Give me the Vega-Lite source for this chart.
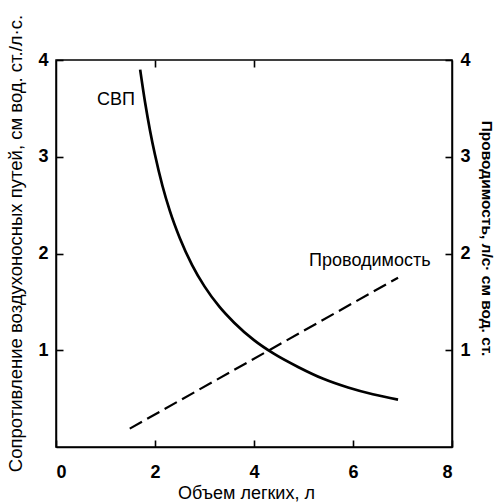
{
  "$schema": "https://vega.github.io/schema/vega-lite/v6.json",
  "width": 396,
  "height": 387,
  "autosize": {"type": "none"},
  "padding": {"left": 56, "top": 60, "right": 46, "bottom": 56},
  "background": "white",
  "config": {
    "view": {"stroke": "black", "strokeWidth": 1.5},
    "axis": {
      "domainColor": "black",
      "domainWidth": 1.5,
      "ticks": true,
      "tickSize": -7,
      "tickColor": "black",
      "tickWidth": 1.6,
      "grid": false,
      "labelPadding": 15,
      "labelFont": "Liberation Sans",
      "labelFontWeight": "bold",
      "labelFontSize": 18,
      "labelColor": "black",
      "titleFont": "Liberation Sans",
      "titleFontWeight": "normal",
      "titleFontSize": 18,
      "titleColor": "black"
    }
  },
  "datasets": {
    "svp": [
      {"v": 1.70, "r": 3.90},
      {"v": 1.80, "r": 3.56},
      {"v": 1.90, "r": 3.27},
      {"v": 2.00, "r": 3.02},
      {"v": 2.15, "r": 2.70},
      {"v": 2.30, "r": 2.44},
      {"v": 2.50, "r": 2.16},
      {"v": 2.75, "r": 1.88},
      {"v": 3.00, "r": 1.66},
      {"v": 3.30, "r": 1.45},
      {"v": 3.60, "r": 1.285},
      {"v": 4.00, "r": 1.105},
      {"v": 4.40, "r": 0.965},
      {"v": 4.90, "r": 0.825},
      {"v": 5.40, "r": 0.705},
      {"v": 5.90, "r": 0.615},
      {"v": 6.40, "r": 0.545},
      {"v": 6.91, "r": 0.49}
    ],
    "cond": [
      {"v": 1.49, "g": 0.19},
      {"v": 6.91, "g": 1.75}
    ],
    "labels": [
      {"v": 1.21, "y": 3.59, "text": "СВП"},
      {"v": 6.34, "y": 1.92, "text": "Проводимость"}
    ]
  },
  "layer": [
    {
      "data": {"name": "svp"},
      "mark": {"type": "line", "color": "black", "strokeWidth": 2.7, "interpolate": "monotone"},
      "encoding": {
        "x": {"field": "v", "type": "quantitative", "scale": {"domain": [0, 8], "nice": false},
          "axis": {"orient": "bottom", "values": [0, 2, 4, 6, 8], "labelPadding": 23, "title": "Объем легких, л", "titlePadding": 3, "titleX": 190}},
        "y": {"field": "r", "type": "quantitative", "scale": {"domain": [0, 4], "nice": false},
          "axis": {"orient": "left", "values": [1, 2, 3, 4], "title": "Сопротивление воздухоносных путей, см вод. ст./л·с.", "titleFontSize": 18.5, "titlePadding": 12, "titleY": 183}}
      }
    },
    {
      "data": {"name": "cond"},
      "mark": {"type": "line", "color": "black", "strokeWidth": 2.2, "strokeDash": [14, 6]},
      "encoding": {
        "x": {"field": "v", "type": "quantitative", "scale": {"domain": [0, 8], "nice": false},
          "axis": {"orient": "top", "values": [2, 4], "labels": false, "title": null, "domain": false}},
        "y": {"field": "g", "type": "quantitative", "scale": {"domain": [0, 4], "nice": false},
          "axis": {"orient": "right", "values": [1, 2, 3, 4], "title": "Проводимость, л/с· см вод. ст.", "titleFontSize": 15.5, "titleFontWeight": "bold", "titlePadding": 8, "titleY": 178}}
      }
    },
    {
      "data": {"name": "labels"},
      "mark": {"type": "text", "font": "Liberation Sans", "fontSize": 18, "color": "black", "align": "center", "baseline": "middle"},
      "encoding": {
        "x": {"field": "v", "type": "quantitative", "scale": {"domain": [0, 8], "nice": false}, "axis": null},
        "y": {"field": "y", "type": "quantitative", "scale": {"domain": [0, 4], "nice": false}, "axis": null},
        "text": {"field": "text"}
      }
    }
  ],
  "resolve": {"scale": {"y": "independent"}, "axis": {"x": "independent", "y": "independent"}}
}
